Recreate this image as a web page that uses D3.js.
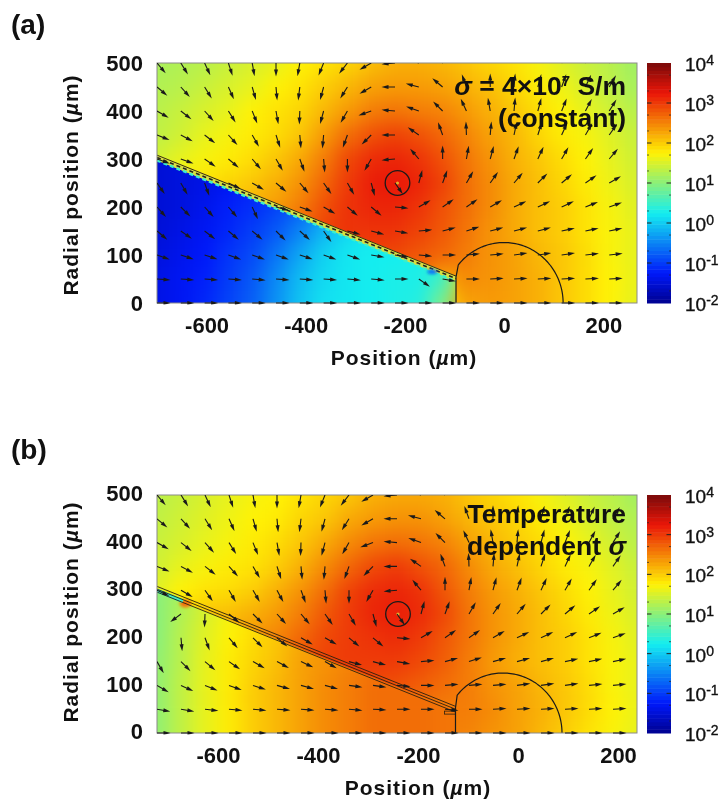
<!DOCTYPE html>
<html><head><meta charset="utf-8">
<script src="https://cdn.jsdelivr.net/npm/d3@7/dist/d3.min.js"></script>
<style>
html,body{margin:0;padding:0;background:#fff}
svg{display:block;filter:blur(0.5px)}
text{font-family:"Liberation Sans",Arial,sans-serif;fill:#111}
</style></head><body>
<script>
// ---------- shared ticks ----------
const xTicks=[-600,-400,-200,0,200];
const yTicks=[0,100,200,300,400,500];
const cbTicks=[-2,-1,0,1,2,3,4];
const rowsUm=[500,450,400,350,300,250,200,150,100,50,0];
const wedgeRowsUm=[350,300,250,200,150,100,50,0];

// ---------- log10(|J|): rows top to bottom, 21 columns ----------
const heatA=[
[1.2,1.25,1.3,1.4,1.5,1.6,1.75,1.85,1.95,2.1,2.2,2.2,2.15,2.05,1.95,1.85,1.7,1.55,1.4,1.3,1.15],
[1.25,1.3,1.4,1.5,1.6,1.75,1.85,2.0,2.15,2.3,2.35,2.35,2.3,2.2,2.1,1.95,1.8,1.65,1.5,1.35,1.2],
[1.3,1.4,1.5,1.6,1.75,1.85,1.95,2.15,2.35,2.55,2.6,2.55,2.5,2.35,2.2,2.05,1.9,1.75,1.6,1.45,1.3],
[1.35,1.45,1.6,1.7,1.8,1.9,2.05,2.35,2.65,2.85,2.95,2.85,2.7,2.5,2.3,2.15,1.95,1.8,1.7,1.55,1.4],
[1.45,1.6,1.7,1.8,1.9,2.05,2.25,2.55,2.9,3.1,3.15,3.05,2.85,2.6,2.4,2.2,2.05,1.9,1.75,1.6,1.45],
[1.6,1.7,1.85,1.95,2.05,2.2,2.4,2.7,3.0,3.2,3.25,3.15,2.95,2.65,2.45,2.25,2.1,1.95,1.8,1.65,1.5],
[1.8,1.9,2.0,2.1,2.2,2.35,2.55,2.85,3.05,3.15,3.15,3.05,2.85,2.65,2.45,2.25,2.1,2.0,1.85,1.7,1.55],
[2.2,2.25,2.3,2.4,2.5,2.6,2.7,2.95,3.05,3.05,3.05,2.95,2.8,2.6,2.4,2.25,2.1,2.0,1.85,1.72,1.6],
[2.5,2.5,2.55,2.6,2.65,2.7,2.75,2.9,2.95,2.95,2.9,2.8,2.7,2.55,2.4,2.3,2.15,2.05,1.9,1.72,1.6],
[2.5,2.5,2.55,2.6,2.65,2.7,2.7,2.75,2.75,2.75,2.7,2.65,2.25,2.45,2.4,2.3,2.2,2.05,1.9,1.75,1.62],
[2.5,2.5,2.55,2.6,2.65,2.7,2.7,2.7,2.7,2.7,2.65,2.4,1.9,2.3,2.35,2.3,2.2,2.05,1.9,1.75,1.6]];
const wedgeA=[
[-1.5,-1.45,-1.4,-1.35,-1.3,-1.2,-1.1,-0.9,-0.6,-0.3,0,0.2,0.3,0.4],
[-1.5,-1.45,-1.4,-1.35,-1.3,-1.2,-1.1,-0.9,-0.6,-0.3,0,0.2,0.3,0.4],
[-1.5,-1.45,-1.4,-1.3,-1.2,-1.05,-0.9,-0.65,-0.3,-0.05,0.1,0.2,0.3,0.4],
[-1.5,-1.45,-1.35,-1.2,-1.1,-0.95,-0.75,-0.4,-0.1,0.1,0.2,0.25,0.3,0.5],
[-1.5,-1.4,-1.3,-1.15,-1.0,-0.8,-0.5,-0.15,0.1,0.2,0.25,0.25,0.3,0.6],
[-1.45,-1.35,-1.25,-1.05,-0.9,-0.6,-0.25,0.05,0.2,0.25,0.25,0.3,0.4,0.9],
[-1.4,-1.3,-1.2,-1.0,-0.8,-0.45,-0.1,0.1,0.2,0.25,0.3,0.3,0.55,1.9],
[-1.4,-1.3,-1.15,-0.95,-0.75,-0.4,-0.05,0.15,0.2,0.25,0.3,0.35,0.9,2.3]];
const heatB=[
[1.3,1.4,1.5,1.6,1.7,1.75,1.85,1.95,2.05,2.2,2.25,2.25,2.2,2.05,1.95,1.85,1.7,1.55,1.4,1.3,1.15],
[1.35,1.45,1.55,1.65,1.75,1.8,1.95,2.05,2.25,2.35,2.4,2.4,2.3,2.15,2.05,1.95,1.8,1.65,1.5,1.35,1.25],
[1.4,1.5,1.6,1.7,1.8,1.9,2.05,2.25,2.45,2.6,2.65,2.6,2.5,2.3,2.15,2.0,1.9,1.75,1.6,1.45,1.3],
[1.45,1.6,1.7,1.8,1.85,2.0,2.2,2.45,2.7,2.9,3.0,2.85,2.7,2.45,2.25,2.1,1.95,1.8,1.7,1.55,1.4],
[1.55,1.75,1.85,1.9,2.0,2.2,2.4,2.65,2.95,3.1,3.15,3.05,2.8,2.55,2.35,2.2,2.05,1.9,1.75,1.6,1.45],
[1.7,1.85,2.05,2.1,2.2,2.35,2.55,2.8,3.0,3.15,3.2,3.1,2.9,2.6,2.4,2.25,2.1,1.95,1.8,1.65,1.5],
[1.9,2.1,2.2,2.3,2.4,2.5,2.7,2.9,3.0,3.05,3.1,3.0,2.8,2.6,2.4,2.25,2.1,2.0,1.85,1.7,1.55],
[2.1,2.25,2.35,2.5,2.6,2.7,2.85,2.95,3.0,3.0,3.0,2.9,2.75,2.55,2.35,2.2,2.1,2.0,1.85,1.72,1.6],
[2.5,2.5,2.55,2.6,2.65,2.7,2.75,2.85,2.9,2.9,2.85,2.75,2.65,2.55,2.4,2.3,2.15,2.05,1.9,1.72,1.6],
[2.5,2.5,2.55,2.6,2.65,2.7,2.7,2.7,2.7,2.7,2.65,2.6,2.55,2.55,2.45,2.3,2.2,2.05,1.9,1.75,1.62],
[2.5,2.5,2.55,2.6,2.65,2.7,2.7,2.7,2.7,2.7,2.65,2.6,2.55,2.5,2.4,2.3,2.15,2.0,1.85,1.72,1.6]];
const wedgeB=[
[1.0,1.2,1.5,1.6,1.8,2.0,2.2,2.4,2.5,2.6,2.6,2.6,2.6,2.6],
[1.0,1.2,1.5,1.6,1.8,2.0,2.2,2.4,2.5,2.6,2.6,2.6,2.6,2.6],
[1.0,1.25,1.5,1.7,1.85,2.0,2.2,2.4,2.5,2.6,2.6,2.6,2.6,2.6],
[1.0,1.3,1.55,1.75,1.9,2.05,2.25,2.4,2.5,2.6,2.65,2.6,2.6,2.6],
[1.05,1.3,1.6,1.8,1.95,2.1,2.3,2.4,2.5,2.6,2.65,2.65,2.6,2.6],
[1.05,1.35,1.6,1.8,2.0,2.15,2.3,2.45,2.55,2.65,2.65,2.65,2.6,2.6],
[1.05,1.35,1.6,1.8,2.0,2.15,2.3,2.45,2.55,2.65,2.65,2.65,2.6,2.6],
[1.05,1.35,1.6,1.8,2.0,2.15,2.3,2.45,2.55,2.65,2.65,2.65,2.6,2.6]];

// ---------- arrow directions in degrees (0 right, 90 down): rows top to bottom, 20 columns ----------
const anglesTop=[
[50,58,65,72,80,90,100,112,128,150,175,200,225,-100,-85,-82,-78,-75,-72,-70],
[40,48,58,66,74,85,97,105,122,150,180,195,220,-110,-90,-85,-75,-70,-65,-60],
[30,38,48,58,68,80,92,105,120,160,185,200,225,-115,-100,-85,-75,-68,-62,-58],
[22,28,38,48,60,72,85,95,110,135,180,215,-110,-92,-85,-78,-72,-65,-60,-55]];
const anglesLowA=[
[20,20,35,40,50,60,70,85,90,120,175,230,-90,-80,-75,-70,-65,-60,-55,-50],
[55,60,70,25,30,40,50,55,60,75,55,-75,-70,-60,-55,-50,-45,-40,-35,-30],
[48,45,48,50,65,15,20,30,40,40,5,-30,-35,-35,-30,-25,-25,-25,-22,-20],
[40,35,38,40,40,45,42,55,15,15,10,-5,-15,-18,-15,-15,-15,-12,-12,-12],
[20,18,18,20,20,20,18,20,20,10,8,5,0,-5,-5,-8,-8,-8,-6,-6],
[4,4,4,4,5,4,4,4,5,5,0,35,10,0,-3,-3,-3,-3,-3,-3],
[0,0,0,0,0,0,0,0,0,0,0,0,0,0,0,0,0,0,0,0]];
const anglesLowB=[
[25,30,55,60,60,62,70,85,90,120,175,230,-90,-80,-75,-70,-65,-60,-55,-50],
[null,143,92,40,45,48,50,55,60,75,55,-75,-70,-60,-55,-50,-45,-40,-35,-30],
[null,85,70,50,45,40,30,30,40,40,5,-30,-35,-35,-30,-25,-25,-25,-22,-20],
[60,45,40,35,30,28,25,30,15,15,10,-5,-15,-18,-15,-15,-15,-12,-12,-12],
[30,25,22,20,18,16,15,15,8,8,5,0,-5,-5,-5,-8,-8,-8,-6,-6],
[10,10,7,5,5,4,4,4,5,3,0,0,5,0,-3,-3,-3,-3,-3,-3],
[0,0,0,0,0,0,0,0,0,0,0,0,0,0,0,0,0,0,0,0]];

// ---------- panel settings ----------
const panelA={id:"a",label:"(a)",labelY:34,top:63,bottom:303,xDomain:[-700,268],colStart:-700,
  heat:heatA,wedge:wedgeA,angles:anglesTop.concat(anglesLowA),
  tipStart:[-700,309],tipEnd:[-97,57],ring:[-215,250],arcCx:0,arcRx:119,arcRy:126,arcFoot:-97,
  tickLabelY:325,titleY:358,ytitleY:185,titleX:404,yLabelShift:0};
const panelB={id:"b",label:"(b)",labelY:459,top:495,bottom:733,xDomain:[-722,238],colStart:-722,
  heat:heatB,wedge:wedgeB,angles:anglesTop.concat(anglesLowB),
  tipStart:[-722,308],tipEnd:[-125,56],ring:[-240,250],arcCx:-30,arcRx:118,arcRy:126,arcFoot:-125,
  tickLabelY:755,titleY:788,ytitleY:612,titleX:418,yLabelShift:-2};
const colStep=48;

// jet colour map over log10 values
const jet=d3.scaleLinear()
  .domain([-2,-1.25,0.25,1.75,3.25,4])
  .range(["#00008f","#0018fa","#14eef0","#fff205","#ea1608","#7a0a0a"])
  .clamp(true);

const W=721,H=803,L=157,R=637,CBL=647,CBR=671;
const svg=d3.select("body").append("svg").attr("width",W).attr("height",H);
const defs=svg.append("defs");
const f=defs.append("filter").attr("id","soft").attr("filterUnits","userSpaceOnUse")
  .attr("x",0).attr("y",0).attr("width",W).attr("height",H)
  .attr("color-interpolation-filters","sRGB");
f.append("feGaussianBlur").attr("stdDeviation",9);
const fs=defs.append("filter").attr("id","soft2").attr("x","-80%").attr("y","-80%").attr("width","260%").attr("height","260%");
fs.append("feGaussianBlur").attr("stdDeviation",1.8);
const tickFmt=d=>String(d);

function drawCells(g,grid,rows,x,y,colStart){
  const hx=Math.abs(x(colStep/2)-x(0)), hy=Math.abs(y(25)-y(0));
  grid.forEach((row,ri)=>row.forEach((v,ci)=>{
    const cx=x(colStart+ci*colStep), cy=y(rows[ri]);
    const ex0=ci===0?50:0, ex1=ci===row.length-1?50:0;
    const ey0=ri===0?50:0, ey1=ri===grid.length-1?50:0;
    g.append("rect").attr("x",cx-hx-ex0).attr("y",cy-hy-ey0)
      .attr("width",2*hx+ex0+ex1+0.5).attr("height",2*hy+ey0+ey1+0.5)
      .attr("fill",jet(v));
  }));
}

function arrow(g,px,py,deg){
  const a=g.append("g").attr("transform",`translate(${px},${py}) rotate(${deg})`);
  a.append("line").attr("x1",0).attr("y1",0).attr("x2",9).attr("y2",0)
    .attr("stroke","#1a1a1a").attr("stroke-width",1.1);
  a.append("path").attr("d",d3.line()([[6.5,-2],[13.5,0],[6.5,2]])+"Z").attr("fill","#1a1a1a");
}

function panel(p){
  const x=d3.scaleLinear().domain(p.xDomain).range([L,R]);
  const y=d3.scaleLinear().domain([0,500]).range([p.bottom,p.top]);
  defs.append("clipPath").attr("id","plot"+p.id).append("rect")
    .attr("x",L).attr("y",p.top).attr("width",R-L).attr("height",p.bottom-p.top);
  defs.append("clipPath").attr("id","arrows"+p.id).append("rect")
    .attr("x",L).attr("y",p.top).attr("width",R-L).attr("height",p.bottom-p.top+1.5);
  const [x0,y0]=p.tipStart, [x1,y1]=p.tipEnd;
  const wedgePoly=[[x(x0),y(y0-12)],[x(x1),y(y1-8)],[x(x1),y(0)],[x(x0),y(0)]];
  defs.append("clipPath").attr("id","wedge"+p.id).append("polygon")
    .attr("points",wedgePoly.map(d=>d.join(",")).join(" "));

  const plot=svg.append("g").attr("clip-path",`url(#plot${p.id})`);
  drawCells(plot.append("g").attr("filter","url(#soft)"),p.heat,rowsUm,x,y,p.colStart);
  const w=plot.append("g").attr("clip-path",`url(#wedge${p.id})`);
  drawCells(w.append("g").attr("filter","url(#soft)"),p.wedge,wedgeRowsUm,x,y,p.colStart);

  // electrode
  const el=plot.append("g");
  const seg=(a,b,off)=>[[x(a[0]),y(a[1]+off)],[x(b[0]),y(b[1]+off)]];
  if(p.id==="a"){
    el.append("path").attr("d",d3.line()(seg(p.tipStart,p.tipEnd,-6))).attr("stroke","#d8e040").attr("stroke-width",5).attr("fill","none");
    el.append("path").attr("d",d3.line()(seg(p.tipStart,p.tipEnd,-12))).attr("stroke",jet(0.5)).attr("stroke-width",2.4).attr("stroke-dasharray","4 3").attr("fill","none");
    el.append("path").attr("d",d3.line()(seg(p.tipStart,p.tipEnd,-1))).attr("stroke","#3a2a10").attr("stroke-width",1).attr("fill","none");
    el.append("path").attr("d",d3.line()(seg(p.tipStart,p.tipEnd,-6))).attr("stroke","#222").attr("stroke-width",1.5).attr("stroke-dasharray","4 3").attr("fill","none");
    el.append("ellipse").attr("cx",x(-145)).attr("cy",y(65)).attr("rx",5).attr("ry",2.5)
      .attr("fill",jet(-0.6)).attr("filter","url(#soft2)");
  } else {
    el.append("ellipse").attr("cx",x(-665)).attr("cy",y(272)).attr("rx",6).attr("ry",4)
      .attr("fill",jet(2.6)).attr("filter","url(#soft2)");
    el.append("path").attr("d",d3.line()([[x(x0),y(y0-9)],[x(-670),y(y0-9-22)]])).attr("stroke",jet(0.5)).attr("stroke-width",4).attr("fill","none");
    [0,-6,-12].forEach(o=>el.append("path").attr("d",d3.line()(seg(p.tipStart,p.tipEnd,o)))
      .attr("stroke","#2a2010").attr("stroke-width",0.9).attr("fill","none"));
    el.append("rect").attr("x",x(x1)-11).attr("y",y(y1-10)).attr("width",11).attr("height",3)
      .attr("fill","none").attr("stroke","#2a2010").attr("stroke-width",0.8);
  }

  // semicircle and foot line
  const ts=d3.range(0,Math.PI*0.79,0.03);
  const arcPts=ts.map(t=>[x(p.arcCx+p.arcRx*Math.cos(t)),y(p.arcRy*Math.sin(t))]);
  arcPts.push([x(p.arcFoot),y(y1-3)],[x(p.arcFoot),y(0)]);
  plot.append("path").attr("d",d3.line()(arcPts)).attr("fill","none").attr("stroke","#1a1a1a").attr("stroke-width",1.2);

  // ring
  plot.append("circle").attr("cx",x(p.ring[0])).attr("cy",y(p.ring[1])).attr("r",12.3)
    .attr("fill","none").attr("stroke","#1a1a1a").attr("stroke-width",1.3);
  plot.append("circle").attr("cx",x(p.ring[0])).attr("cy",y(p.ring[1])).attr("r",1.6).attr("fill","#e0b030");

  // frame
  svg.append("rect").attr("x",L).attr("y",p.top).attr("width",R-L).attr("height",p.bottom-p.top)
    .attr("fill","none").attr("stroke","#8a8a8a").attr("stroke-width",1);

  // arrows, tails on the grid nodes
  const ag=svg.append("g").attr("clip-path",`url(#arrows${p.id})`);
  p.angles.forEach((row,ri)=>row.forEach((deg,ci)=>{
    if(deg===null) return;
    arrow(ag,x(p.colStart+ci*colStep),y(rowsUm[ri]),deg);
  }));

  // axes (labels only)
  const ax=svg.append("g").attr("transform",`translate(0,${p.tickLabelY-7})`)
    .call(d3.axisBottom(x).tickValues(xTicks).tickSize(0).tickPadding(0).tickFormat(tickFmt));
  ax.select(".domain").remove();
  ax.selectAll("text").attr("y",14.5).attr("dy",null).style("font-size","22px").style("font-weight","700").style("fill","#111").style("font-family",'"Liberation Sans",Arial,sans-serif');

  const ay=svg.append("g").attr("transform",`translate(143,${p.yLabelShift})`)
    .call(d3.axisLeft(y).tickValues(yTicks).tickSize(0).tickPadding(0).tickFormat(tickFmt));
  ay.select(".domain").remove();
  ay.selectAll("text").attr("dy","0.35em").style("font-size","22px").style("font-weight","700").style("fill","#111").style("font-family",'"Liberation Sans",Arial,sans-serif');

  // titles
  const tx=svg.append("text").attr("x",p.titleX).attr("y",p.titleY+7).attr("text-anchor","middle")
    .style("font-size","21px").style("font-weight","700").style("letter-spacing","1px");
  tx.append("tspan").text("Position (");tx.append("tspan").style("font-style","italic").text("µ");tx.append("tspan").text("m)");
  const ty=svg.append("text").attr("transform",`translate(78,${p.ytitleY}) rotate(-90)`).attr("text-anchor","middle")
    .style("font-size","21px").style("font-weight","700").style("letter-spacing","1px");
  ty.append("tspan").text("Radial position (");ty.append("tspan").style("font-style","italic").text("µ");ty.append("tspan").text("m)");

  svg.append("text").attr("x",11).attr("y",p.labelY).style("font-size","28px").style("font-weight","700").text(p.label);

  // colour bar
  const c=d3.scaleLinear().domain([-2,4]).range([p.bottom,p.top]);
  const bands=d3.range(64).map(i=>-2+6*i/64);
  svg.append("g").selectAll("rect").data(bands).join("rect")
    .attr("x",CBL).attr("width",CBR-CBL)
    .attr("y",d=>c(d+6/64)).attr("height",d=>c(d)-c(d+6/64)+0.5)
    .attr("fill",d=>jet(d+3/64));
  const cm=svg.append("g").attr("stroke","#222");
  cbTicks.slice(0,-1).forEach(d=>{
    [0,Math.log10(2),Math.log10(5)].forEach((m,i)=>{
      const yy=c(d+m), len=i===0?4.5:2;
      if(i===0&&d===-2) return;
      cm.append("line").attr("x1",CBL).attr("x2",CBL+len).attr("y1",yy).attr("y2",yy).attr("stroke-width",i===0?1:0.7);
      cm.append("line").attr("x1",CBR-len).attr("x2",CBR).attr("y1",yy).attr("y2",yy).attr("stroke-width",i===0?1:0.7);
    });
  });
  const cl=svg.append("g");
  cbTicks.forEach(d=>{
    const t=cl.append("text").attr("x",685).attr("y",c(d)+8).style("font-size","19px").style("stroke","#111").style("stroke-width","0.35px");
    t.append("tspan").text("10");
    t.append("tspan").attr("dy",-6).style("font-size","14px").text(d);
  });
}
panel(panelA);
panel(panelB);

// annotations
const annSize="26.5px";
const annA1=svg.append("text").attr("x",626).attr("y",95).attr("text-anchor","end").style("font-size",annSize).style("font-weight","700");
annA1.append("tspan").style("font-style","italic").text("σ");
annA1.append("tspan").text(" = 4×10");
annA1.append("tspan").attr("dy",-9).style("font-size","15px").text("7");
annA1.append("tspan").attr("dy",9).text(" S/m");
svg.append("text").attr("x",626).attr("y",127).attr("text-anchor","end").style("font-size",annSize).style("font-weight","700").text("(constant)");
svg.append("text").attr("x",626).attr("y",523).attr("text-anchor","end").style("font-size",annSize).style("font-weight","700").text("Temperature");
const annB=svg.append("text").attr("x",626).attr("y",555).attr("text-anchor","end").style("font-size",annSize).style("font-weight","700");
annB.append("tspan").text("dependent ");
annB.append("tspan").style("font-style","italic").text("σ");
</script>
</body></html>
